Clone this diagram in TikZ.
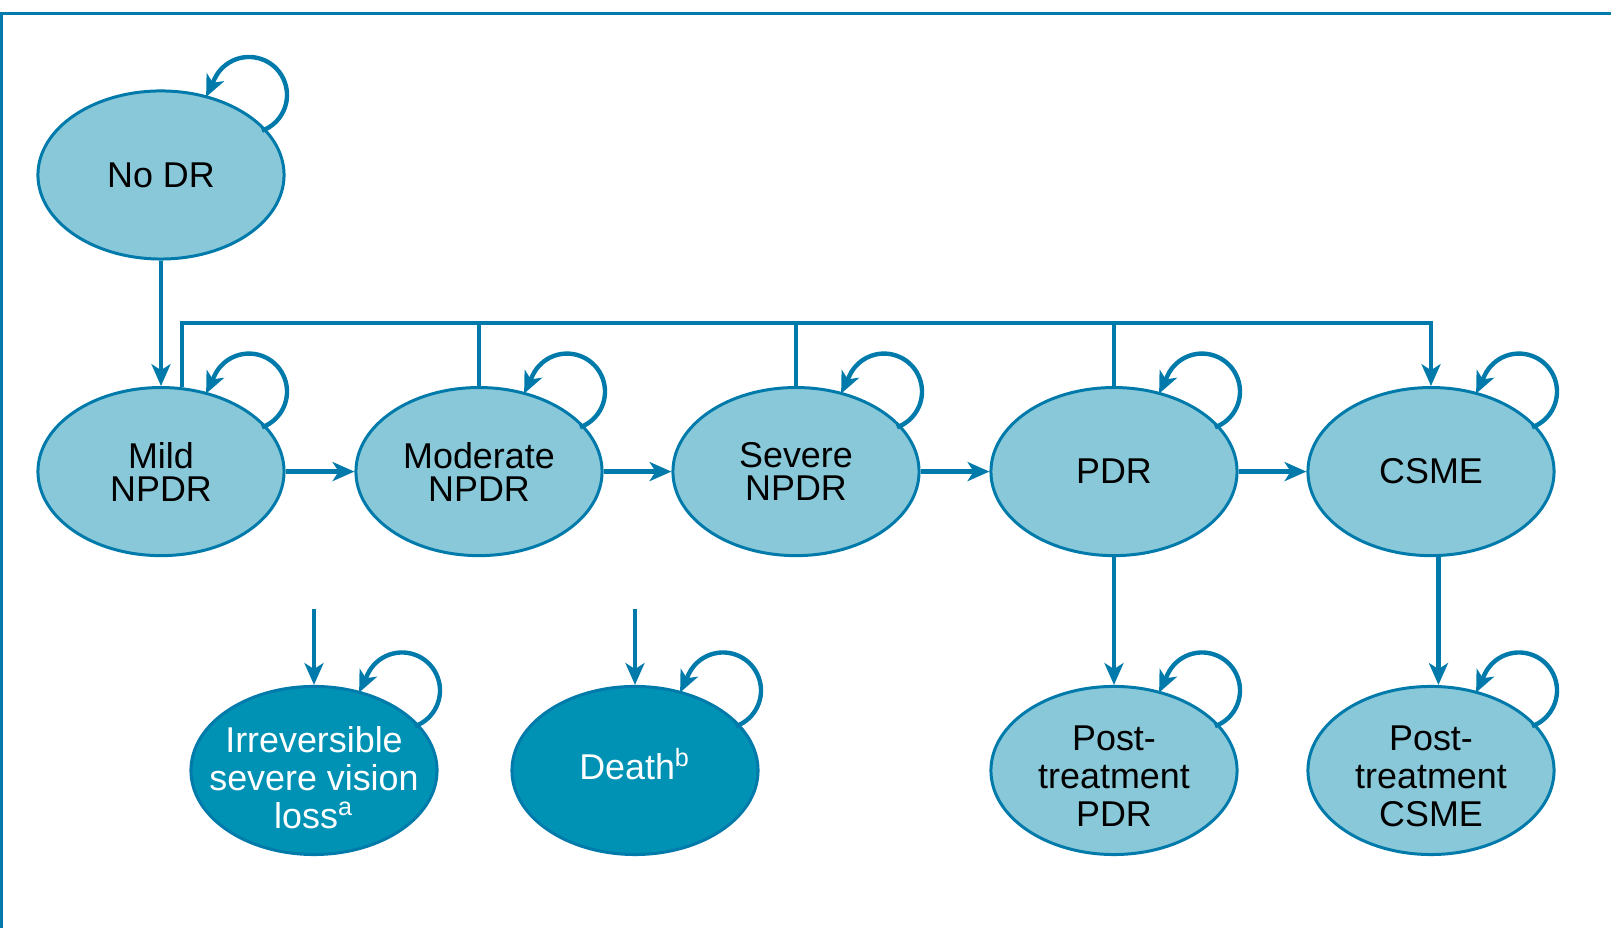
\documentclass[tikz,border=0pt]{standalone}
\usepackage{xcolor}
\usepackage{fontspec}
\setmainfont{Liberation Sans}
\usetikzlibrary{arrows.meta,shapes.geometric}

\definecolor{lineblue}{RGB}{0,122,170}
\definecolor{stagefill}{RGB}{136,200,216}
\definecolor{endfill}{RGB}{0,146,180}

\tikzset{
    stage/.style={ellipse,draw=lineblue,line width=0.85pt,fill=stagefill,
        minimum width=2.46cm,minimum height=1.68cm,inner sep=-8mm,align=center,
        font=\fontsize{10.2}{9.4}\selectfont},
    outcome/.style={stage,font=\fontsize{10.2}{10.8}\selectfont},
    absorbing/.style={outcome,fill=endfill,text=white},
    link/.style={draw=lineblue,line width=1.25pt,-{Stealth[length=6.2pt,width=5.4pt,inset=1.7pt]}},
    bar/.style={draw=lineblue,line width=1.25pt}
}

\begin{document}
\begin{tikzpicture}[x=0.01cm,y=0.01cm]
        \useasboundingbox (0,0) rectangle (1611,928);
        \draw[lineblue,line width=0.77pt] (1.2,0) |- (1611,914.3);
        \node[stage] (nodr) at (161,753) {No DR};
        \node[stage] (mild) at (161,456.4) {Mild\\NPDR};
        \node[stage] (mod) at (479,456.4) {Moderate\\NPDR};
        \node[stage] (sev) at (796,456.4) {Severe\\NPDR};
        \node[stage] (pdr) at (1114,456.4) {PDR};
        \node[stage] (csme) at (1431,456.4) {CSME};
        \node[absorbing] (irr) at (314,157.5) {\rule{0pt}{11.6pt}Irreversible\\severe vision\\loss\textsuperscript{a}};
        \node[absorbing] (death) at (635,157.5) {\rule[-2.4pt]{0pt}{2.4pt}Death\smash{\textsuperscript{b}}};
        \node[outcome] (postpdr) at (1114,157.5) {\rule{0pt}{10.2pt}Post-\\treatment\\PDR};
        \node[outcome] (postcsme) at (1431,157.5) {\rule{0pt}{10.2pt}Post-\\treatment\\CSME};
        \coordinate (bus) at (0,604.7);
        \coordinate (irrin) at (314,319);
        \coordinate (deathin) at (635,319);
        \draw[link] (nodr) -- (mild);
        \draw[link] (mild) -- (mod);
        \draw[link] (mod) -- (sev);
        \draw[link] (sev) -- (pdr);
        \draw[link] (pdr) -- (csme);
        \draw[link] (mild.76) |- (csme |- bus) -- (csme);
        \draw[bar] (mod) -- (mod |- bus);
        \draw[bar] (sev) -- (sev |- bus);
        \draw[bar] (pdr) -- (pdr |- bus);
        \draw[link] (pdr) -- (postpdr);
        \draw[link] (csme.275.5) -- (csme.275.5 |- postcsme.north);
        \draw[link] (irrin) -- (irr);
        \draw[link] (deathin) -- (death);
        \foreach \n in {nodr,mild,mod,sev,pdr,csme,irr,death,postpdr,postcsme}
                \draw[link] ([shift={(88,80)}]\n.center) ++(-70:38) arc[start angle=-70,end angle=155,radius=38] -- ++(245:20);
\end{tikzpicture}
\end{document}
